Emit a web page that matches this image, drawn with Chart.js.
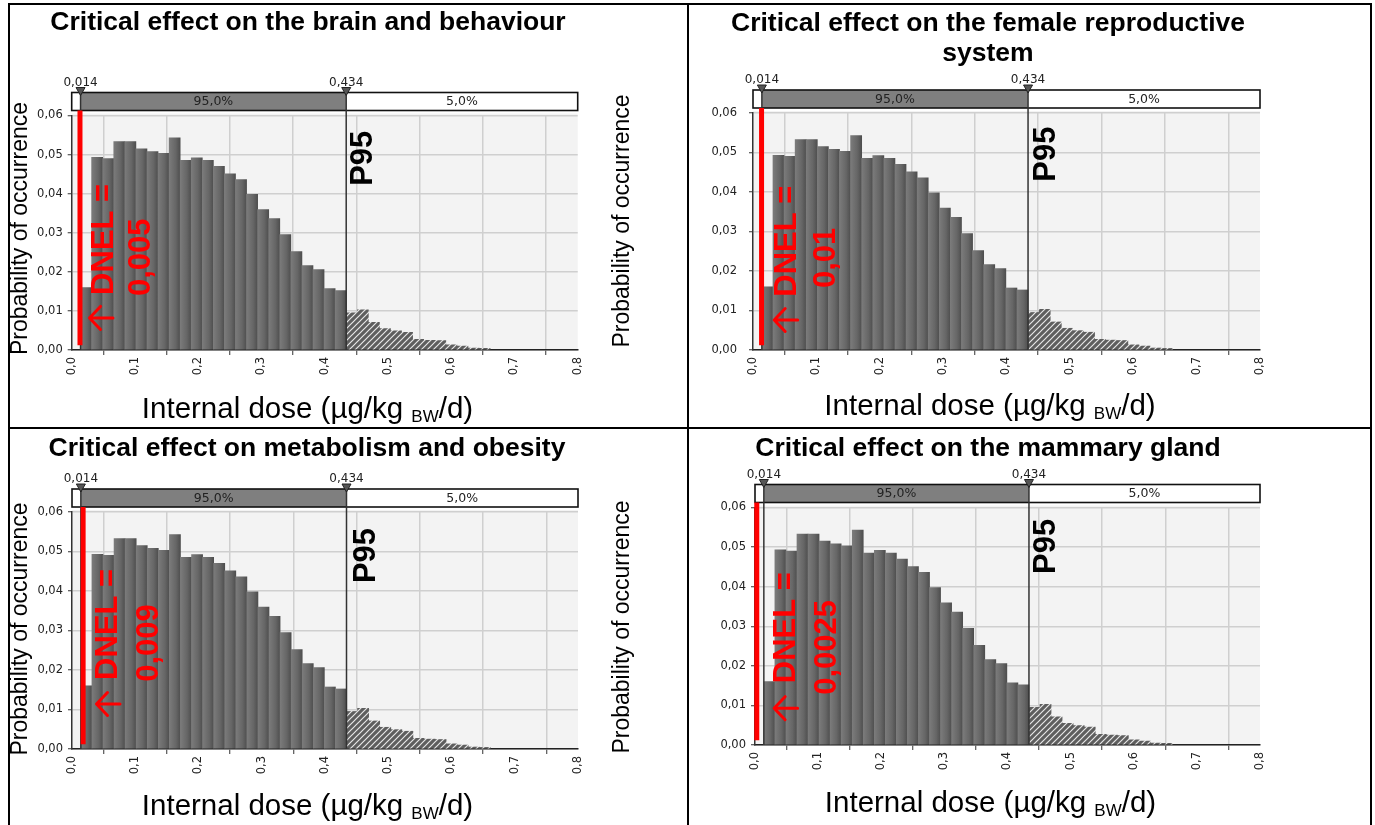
<!DOCTYPE html>
<html><head><meta charset="utf-8">
<script src="https://cdn.jsdelivr.net/npm/chart.js@4.4.1/dist/chart.umd.min.js"></script>
<style>
html,body{margin:0;padding:0;background:#fff;}
#page{position:relative;width:1375px;height:825px;overflow:hidden;background:#fff;}
#page canvas{position:absolute;}
.ln{position:absolute;background:#000;}
</style></head><body>
<div id="page">
  <div class="ln" style="left:8px;top:3px;width:2px;height:830px"></div>
  <div class="ln" style="left:8px;top:3px;width:1364px;height:2px"></div>
  <div class="ln" style="left:1370px;top:3px;width:2px;height:830px"></div>
  <div class="ln" style="left:687px;top:3px;width:2px;height:830px"></div>
  <div class="ln" style="left:8px;top:427px;width:1364px;height:2px"></div>
</div>
<script>
// ---------------- data ----------------
const doseBinStartsCore = [0.014,0.0315,0.049,0.0665,0.084,0.1015,0.119,0.1365,0.154,0.1715,0.189,0.2065,0.224,0.2415,0.259,0.2765,0.294,0.3115,0.329,0.3465,0.364,0.3815,0.399,0.4165];
const probabilityCore = [0.0160,0.0493,0.0490,0.0533,0.0533,0.0515,0.0508,0.0503,0.0543,0.0485,0.0492,0.0485,0.0470,0.0451,0.0436,0.0398,0.0359,0.0336,0.0295,0.0252,0.0216,0.0206,0.0157,0.0152];
const doseBinStartsTail = [0.434,0.4515,0.469,0.4865,0.504,0.5215,0.539,0.5565,0.574,0.5915,0.609,0.6265,0.644];
const probabilityTail = [0.0095,0.0103,0.0071,0.0055,0.0049,0.0045,0.0027,0.0025,0.0024,0.0013,0.0010,0.0005,0.0004];
const binWidth = 0.0175;
const xTickValues = [0,0.1,0.2,0.3,0.4,0.5,0.6,0.7,0.8];
const xTickLabels = ['0,0','0,1','0,2','0,3','0,4','0,5','0,6','0,7','0,8'];
const yTickValues = [0,0.01,0.02,0.03,0.04,0.05,0.06];
const yTickLabels = ['0,00','0,01','0,02','0,03','0,04','0,05','0,06'];
const percentileValues = [0.014, 0.434];
const percentileLabels = ['0,014','0,434'];
const shareLabels = ['95,0%','5,0%'];
const panelTitles = [
  ['Critical effect on the brain and behaviour'],
  ['Critical effect on the female reproductive','system'],
  ['Critical effect on metabolism and obesity'],
  ['Critical effect on the mammary gland']
];
const dnelLabels = ['0,005','0,01','0,009','0,0025'];
const dnelLinePositions = [0.0131, 0.0135, 0.0176, 0.0028];
const yAxisTitle = 'Probability of occurrence';
const xAxisTitleParts = ['Internal dose (\u00b5g/kg ','BW','/d)'];
const p95Label = 'P95';

// ---------------- layout (page pixels) ----------------
const layouts = [
  {canvas:[10,5,677,422], area:[71.7,115.5,577.7,350], tickPad:5, titleX:308, titleBase:[30], xTitleX:307.5, xTitleBase:417.5,
   leftLabel:[21,228.5], rightLabel:[623,221], dnelText:[[0.0653,0.0141],[0.1238,0.0138]], arrow:[0.0463,0.0082], p95:[0.475,0.042]},
  {canvas:[689,5,681,422], area:[753,113,1260,350], tickPad:12, titleX:988, titleBase:[31,61], xTitleX:990, xTitleBase:415,
   leftLabel:null, rightLabel:null, dnelText:[[0.0672,0.0135],[0.1294,0.0157]], arrow:[0.0516,0.0076], p95:[0.4765,0.0426]},
  {canvas:[10,429,677,396], area:[72,512,578,749], tickPad:5, titleX:307, titleBase:[455.5], xTitleX:307.5, xTitleBase:815,
   leftLabel:[21,629], rightLabel:[623,627], dnelText:[[0.0711,0.0175],[0.136,0.017]], arrow:[0.0569,0.0114], p95:[0.4795,0.042]},
  {canvas:[689,429,681,396], area:[755,507.5,1260,745], tickPad:5, titleX:988, titleBase:[455.5], xTitleX:990.5, xTitleBase:811.7,
   leftLabel:null, rightLabel:null, dnelText:[[0.0639,0.0156],[0.129,0.0127]], arrow:[0.0485,0.0093], p95:[0.475,0.0432]}
];
const Y_AXIS_W = 44, X_AXIS_H = 30;
const SANS = '"Liberation Sans", Arial, sans-serif';
const SMALL = '"DejaVu Sans", Verdana, sans-serif';

function drawRot(ctx, text, x, y, font, color, align, baseline) {
  ctx.save(); ctx.translate(x, y); ctx.rotate(-Math.PI/2);
  ctx.font = font; ctx.fillStyle = color; ctx.textAlign = align || 'left';
  ctx.textBaseline = baseline || 'alphabetic'; ctx.fillText(text, 0, 0); ctx.restore();
}

function makePanel(idx) {
  const L = layouts[idx];
  const [cl, ct, cw, ch] = L.canvas;
  const cv = document.createElement('canvas');
  cv.width = cw; cv.height = ch;
  cv.style.left = cl + 'px'; cv.style.top = ct + 'px';
  cv.style.width = cw + 'px'; cv.style.height = ch + 'px';
  document.getElementById('page').appendChild(cv);
  const [al, at, ar, ab] = L.area;
  const pad = { left: al - cl - Y_AXIS_W, top: at - ct, right: cl + cw - ar, bottom: ct + ch - ab - X_AXIS_H };
  let hatchCache = null;

  const annot = {
    id: 'annot' + idx,
    beforeDraw(chart) {
      const c = chart.ctx, a = chart.chartArea;
      c.save(); c.fillStyle = '#f3f3f3';
      c.fillRect(a.left, a.top - 2, a.right - a.left, a.bottom - a.top + 2);
      c.restore();
    },
    afterDatasetsDraw(chart) {
      const c = chart.ctx, a = chart.chartArea, xs = chart.scales.x, ys = chart.scales.y;
      const boxTop = a.top - 23, boxBot = a.top - 5;
      const px0 = xs.getPixelForValue(percentileValues[0]);
      const px1 = xs.getPixelForValue(percentileValues[1]);
      c.save();
      c.fillStyle = '#ffffff'; c.fillRect(a.left, boxTop, a.right - a.left, boxBot - boxTop);
      c.fillStyle = '#7f7f7f'; c.fillRect(px0, boxTop, px1 - px0, boxBot - boxTop);
      c.strokeStyle = '#111'; c.lineWidth = 1.6;
      c.strokeRect(a.left, boxTop, a.right - a.left, boxBot - boxTop);
      c.strokeStyle = '#333'; c.lineWidth = 1.5;
      [px0, px1].forEach(p => { c.beginPath(); c.moveTo(p, boxTop); c.lineTo(p, a.bottom); c.stroke(); });
      c.font = '12.5px ' + SMALL; c.fillStyle = '#222'; c.textAlign = 'center'; c.textBaseline = 'middle';
      c.fillText(shareLabels[0], (px0 + px1) / 2, (boxTop + boxBot) / 2 + 0.5);
      c.fillText(shareLabels[1], (px1 + a.right) / 2, (boxTop + boxBot) / 2 + 0.5);
      [px0, px1].forEach((p, k) => {
        c.beginPath(); c.moveTo(p - 4.5, boxTop - 5); c.lineTo(p + 4.5, boxTop - 5); c.lineTo(p, boxTop + 3); c.closePath();
        c.fillStyle = '#555'; c.fill(); c.strokeStyle = '#222'; c.lineWidth = 1; c.stroke();
        c.font = '12px ' + SMALL; c.fillStyle = '#222'; c.textAlign = 'center'; c.textBaseline = 'alphabetic';
        c.fillText(percentileLabels[k], p, boxTop - 7);
      });
      const rx = xs.getPixelForValue(dnelLinePositions[idx]);
      c.strokeStyle = '#ff0000'; c.lineWidth = 5;
      c.beginPath(); c.moveTo(rx, boxBot); c.lineTo(rx, ys.getPixelForValue(0.0012)); c.stroke();
      drawRot(c, p95Label, xs.getPixelForValue(L.p95[0]), ys.getPixelForValue(L.p95[1]), 'bold 31px ' + SANS, '#000', 'left');
      drawRot(c, 'DNEL =', xs.getPixelForValue(L.dnelText[0][0]), ys.getPixelForValue(L.dnelText[0][1]), 'bold 31px ' + SANS, '#ff0000', 'left');
      drawRot(c, dnelLabels[idx], xs.getPixelForValue(L.dnelText[1][0]), ys.getPixelForValue(L.dnelText[1][1]), 'bold 31px ' + SANS, '#ff0000', 'left');
      const ax = xs.getPixelForValue(L.arrow[0]), ay = ys.getPixelForValue(L.arrow[1]);
      c.strokeStyle = '#ff0000'; c.lineWidth = 3; c.lineCap = 'round'; c.lineJoin = 'round';
      c.beginPath(); c.moveTo(ax + 12, ay); c.lineTo(ax - 11, ay);
      c.moveTo(ax - 0.5, ay - 11.5); c.lineTo(ax - 11.5, ay); c.lineTo(ax - 0.5, ay + 11.5); c.stroke();
      c.restore();
    },
    afterDraw(chart) {
      const c = chart.ctx;
      c.save();
      c.font = 'bold 26.5px ' + SANS; c.fillStyle = '#000'; c.textAlign = 'center'; c.textBaseline = 'alphabetic';
      panelTitles[idx].forEach((t, k) => c.fillText(t, L.titleX - cl, L.titleBase[k] - ct));
      const fMain = '29.5px ' + SANS, fSub = '17px ' + SANS;
      c.font = fMain; const w0 = c.measureText(xAxisTitleParts[0]).width, w2 = c.measureText(xAxisTitleParts[2]).width;
      c.font = fSub; const w1 = c.measureText(xAxisTitleParts[1]).width;
      let x = L.xTitleX - cl - (w0 + w1 + w2) / 2; const yb = L.xTitleBase - ct;
      c.textAlign = 'left';
      c.font = fMain; c.fillText(xAxisTitleParts[0], x, yb); x += w0;
      c.font = fSub; c.fillText(xAxisTitleParts[1], x, yb + 4); x += w1;
      c.font = fMain; c.fillText(xAxisTitleParts[2], x, yb);
      if (L.leftLabel) drawRot(c, yAxisTitle, L.leftLabel[0] - cl, L.leftLabel[1] - ct, '23px ' + SANS, '#000', 'center', 'middle');
      if (L.rightLabel) drawRot(c, yAxisTitle, L.rightLabel[0] - cl, L.rightLabel[1] - ct, '23px ' + SANS, '#000', 'center', 'middle');
      c.restore();
    }
  };

  const gradientFill = (ctx) => {
    const chart = ctx.chart, xs = chart.scales.x;
    if (ctx.type !== 'data' || !xs) return '#666';
    const x0 = xs.getPixelForValue(ctx.raw.x - binWidth / 2), x1 = xs.getPixelForValue(ctx.raw.x + binWidth / 2);
    if (!isFinite(x0) || !isFinite(x1)) return '#666';
    const g = chart.ctx.createLinearGradient(x0, 0, x1, 0);
    g.addColorStop(0, '#7b7b7b'); g.addColorStop(0.6, '#666666'); g.addColorStop(1, '#4e4e4e');
    return g;
  };
  const hatchFill = (ctx) => {
    if (!hatchCache) {
      const p = document.createElement('canvas'); p.width = 6; p.height = 6;
      const q = p.getContext('2d');
      q.fillStyle = '#5e5e5e'; q.fillRect(0, 0, 6, 6);
      q.strokeStyle = 'rgba(255,255,255,0.85)'; q.lineWidth = 1.2;
      q.beginPath(); q.moveTo(-1, 7); q.lineTo(7, -1); q.moveTo(-1, 1); q.lineTo(1, -1); q.moveTo(5, 7); q.lineTo(7, 5); q.stroke();
      hatchCache = ctx.chart.ctx.createPattern(p, 'repeat');
    }
    return hatchCache;
  };

  const tickFont = { family: SMALL, size: 11.5 };
  new Chart(cv, {
    type: 'bar',
    data: {
      datasets: [
        { data: doseBinStartsCore.map((s, i) => ({ x: s + binWidth / 2, y: probabilityCore[i] })),
          backgroundColor: gradientFill, borderWidth: 0, barPercentage: 1, categoryPercentage: 1, grouped: false },
        { data: doseBinStartsTail.map((s, i) => ({ x: s + binWidth / 2, y: probabilityTail[i] })),
          backgroundColor: hatchFill, borderWidth: 0, barPercentage: 1, categoryPercentage: 1, grouped: false }
      ]
    },
    options: {
      responsive: false, animation: false, devicePixelRatio: 1,
      layout: { padding: pad },
      plugins: { legend: { display: false }, tooltip: { enabled: false }, title: { display: false } },
      scales: {
        x: { type: 'linear', min: 0, max: 0.8, offset: false,
          afterBuildTicks: s => { s.ticks = xTickValues.map(v => ({ value: v })); },
          afterFit: s => { s.height = X_AXIS_H; },
          ticks: { callback: (v, i) => xTickLabels[i], minRotation: 90, maxRotation: 90, autoSkip: false,
                   font: tickFont, color: '#222', padding: 2 },
          grid: { color: '#cfcfcf', lineWidth: 1.5, tickLength: 5, tickColor: '#333', tickWidth: 1 },
          border: { color: '#222', width: 1.5 } },
        y: { min: 0, max: 0.06,
          afterBuildTicks: s => { s.ticks = yTickValues.map(v => ({ value: v })); },
          afterFit: s => { s.width = Y_AXIS_W; },
          ticks: { callback: (v, i) => yTickLabels[i], autoSkip: false, font: tickFont, color: '#222', padding: L.tickPad },
          grid: { color: '#cfcfcf', lineWidth: 1.5, tickLength: 4, tickColor: '#333', tickWidth: 1 },
          border: { color: '#333', width: 1.5 } }
      }
    },
    plugins: [annot]
  });
}
for (let i = 0; i < 4; i++) makePanel(i);
</script>
</body></html>
